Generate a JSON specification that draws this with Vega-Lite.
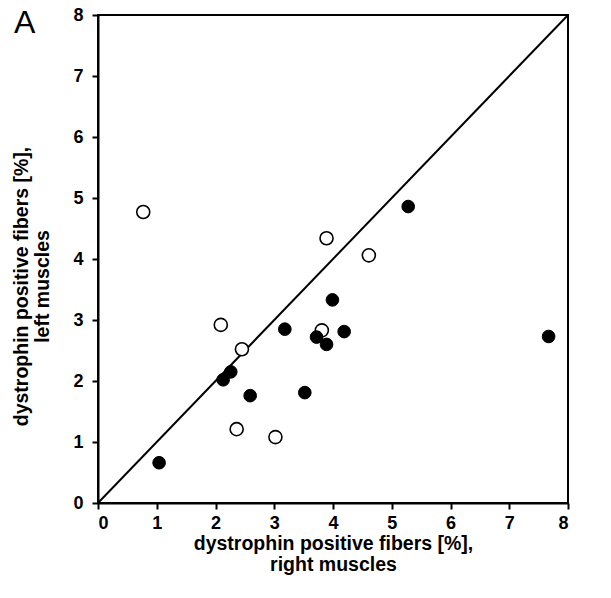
{
  "$schema": "https://vega.github.io/schema/vega-lite/v6.json",
  "width": 470,
  "height": 488,
  "autosize": {"type": "none"},
  "padding": {"left": 98, "top": 15, "right": 43, "bottom": 95},
  "background": "white",
  "title": {"text": "A", "anchor": "start", "frame": "group", "dx": -84, "dy": 38, "fontSize": 32, "fontWeight": "normal", "font": "Liberation Sans", "color": "black"},
  "config": {
    "view": {"stroke": "black", "strokeWidth": 2},
    "axis": {
      "domainColor": "black", "domainWidth": 2, "tickColor": "black", "tickWidth": 2, "tickSize": 6,
      "labelFont": "Liberation Sans", "labelFontWeight": "bold", "labelFontSize": 18, "labelColor": "black", "labelPadding": 5,
      "titleFont": "Liberation Sans", "titleFontWeight": "bold", "titleFontSize": 19.5, "titleColor": "black", "titleLineHeight": 21,
      "grid": false, "format": "d"
    }
  },
  "datasets": {
    "pts": [
      {"right": 1.04, "left": 0.66, "group": "filled"},
      {"right": 2.13, "left": 2.02, "group": "filled"},
      {"right": 2.26, "left": 2.15, "group": "filled"},
      {"right": 2.59, "left": 1.76, "group": "filled"},
      {"right": 3.18, "left": 2.85, "group": "filled"},
      {"right": 3.52, "left": 1.81, "group": "filled"},
      {"right": 3.72, "left": 2.72, "group": "filled"},
      {"right": 3.89, "left": 2.6, "group": "filled"},
      {"right": 4.19, "left": 2.81, "group": "filled"},
      {"right": 7.67, "left": 2.73, "group": "filled"},
      {"right": 3.99, "left": 3.33, "group": "filled"},
      {"right": 5.28, "left": 4.86, "group": "filled"},
      {"right": 0.77, "left": 4.77, "group": "open"},
      {"right": 2.09, "left": 2.92, "group": "open"},
      {"right": 2.45, "left": 2.52, "group": "open"},
      {"right": 2.36, "left": 1.21, "group": "open"},
      {"right": 3.02, "left": 1.08, "group": "open"},
      {"right": 3.81, "left": 2.83, "group": "open"},
      {"right": 3.89, "left": 4.34, "group": "open"},
      {"right": 4.61, "left": 4.06, "group": "open"}
    ],
    "diag": [
      {"right": 0, "left": 0},
      {"right": 8, "left": 8}
    ]
  },
  "layer": [
    {
      "data": {"name": "diag"},
      "mark": {"type": "line", "color": "black", "strokeWidth": 2, "clip": true},
      "encoding": {
        "x": {"field": "right", "type": "quantitative", "scale": {"domain": [0, 8], "nice": false},
              "axis": {"values": [0,1,2,3,4,5,6,7,8], "format": "d", "title": ["dystrophin positive fibers [%],", "right muscles"], "titlePadding": 2}},
        "y": {"field": "left", "type": "quantitative", "scale": {"domain": [0, 8], "nice": false},
              "axis": {"values": [0,1,2,3,4,5,6,7,8], "format": "d", "labelPadding": 9, "title": ["dystrophin positive fibers [%],", "left muscles"], "titlePadding": 20, "titleY": 271}}
      }
    },
    {
      "data": {"name": "pts"},
      "transform": [{"filter": "datum.group === 'open'"}],
      "mark": {"type": "point", "shape": "circle", "filled": true, "fill": "white", "stroke": "black", "strokeWidth": 1.6, "size": 170, "opacity": 1},
      "encoding": {
        "x": {"field": "right", "type": "quantitative"},
        "y": {"field": "left", "type": "quantitative"}
      }
    },
    {
      "data": {"name": "pts"},
      "transform": [{"filter": "datum.group === 'filled'"}],
      "mark": {"type": "point", "shape": "circle", "filled": true, "fill": "black", "stroke": "black", "strokeWidth": 1, "size": 160, "opacity": 1},
      "encoding": {
        "x": {"field": "right", "type": "quantitative"},
        "y": {"field": "left", "type": "quantitative"}
      }
    }
  ]
}
